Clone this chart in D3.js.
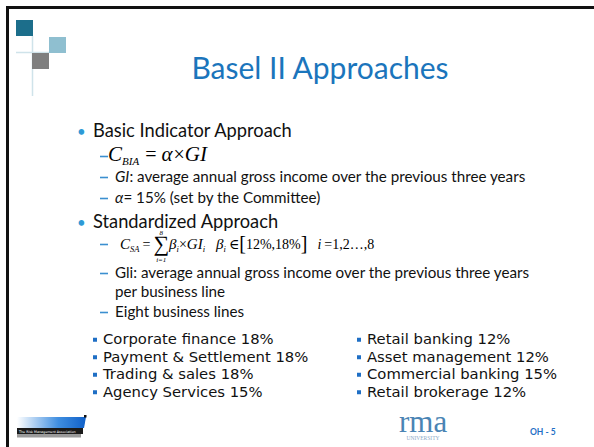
<!DOCTYPE html>
<html>
<head>
<meta charset="utf-8">
<script src="https://cdn.jsdelivr.net/npm/d3@7"></script>
<style>
  html, body { margin: 0; padding: 0; background: #fff; }
  svg { display: block; }
  svg text { white-space: pre; }
</style>
</head>
<body>
<svg id="slide"></svg>
<script>
// slide content
const title = 'Basel II Approaches'
const approaches = ['Basic Indicator Approach', 'Standardized Approach']
const alphaPct = 15
const betaRange = [12, 18]
const nLines = 8
const giNote = ': average annual gross income over the previous three years'
const gliNote = ['Gli: average annual gross income over the previous three years', 'per business line']
const eightNote = 'Eight business lines'
const businessLines = ['Corporate finance', 'Payment & Settlement', 'Trading & sales', 'Agency Services',
                       'Retail banking', 'Asset management', 'Commercial banking', 'Retail brokerage']
const betaPct = [18, 18, 18, 15, 12, 12, 15, 12]
const slideNo = 'OH - 5'

const W = 594, H = 447
const sans = 'Lato, "Open Sans", sans-serif'
const serif = '"Liberation Serif", "DejaVu Serif", serif'
const verdana = '"DejaVu Sans", Verdana, sans-serif'
const blue = '#1b75bc'
const dashBlue = '#3b8fd0'

const svg = d3.select('#slide').attr('width', W).attr('height', H)

// frame
svg.append('path')
    .attr('d', `M7.5,${H} V7.5 H${W}`)
    .attr('fill', 'none').attr('stroke', '#111').attr('stroke-width', 3)

// corner logo
const logo = svg.append('g')
logo.append('line').attr('x1', 32.5).attr('x2', 32.5).attr('y1', 36).attr('y2', 96)
    .attr('stroke', '#cfe3ea').attr('stroke-width', 1.5)
logo.append('line').attr('x1', 16).attr('x2', 49).attr('y1', 52.5).attr('y2', 52.5)
    .attr('stroke', '#cfe3ea').attr('stroke-width', 1.5)
logo.append('rect').attr('x', 16).attr('y', 20).attr('width', 17).attr('height', 16).attr('fill', '#1c6e8b')
logo.append('rect').attr('x', 49).attr('y', 37).attr('width', 17).attr('height', 16).attr('fill', '#8fbfd0')
logo.append('rect').attr('x', 32).attr('y', 53).attr('width', 17).attr('height', 16).attr('fill', '#7f7f7f')

// title
svg.append('text')
    .attr('x', 320).attr('y', 79)
    .attr('text-anchor', 'middle')
    .attr('font-family', sans).attr('font-size', 30)
    .attr('fill', blue)
    .text(title)

// lays a run of text pieces from left to right
function run (g, x, y, pieces) {
    let cx = x
    pieces.forEach(p => {
        if (p.gap) { cx += p.gap; return }
        let t = g.append('text')
            .attr('x', cx).attr('y', y + (p.dy || 0))
            .attr('font-family', p.ff || serif)
            .attr('font-size', p.fs || 17)
            .attr('font-style', p.it ? 'italic' : 'normal')
            .attr('fill', p.fill || '#000')
            .text(p.t)
        let w = t.node().getComputedTextLength()
        if (p.over || p.under) {
            let mid = cx + w / 2
            if (p.over) g.append('text').attr('x', mid).attr('y', y - 14).attr('text-anchor', 'middle')
                .attr('font-family', serif).attr('font-style', 'italic').attr('font-size', 7).text(p.over)
            if (p.under) g.append('text').attr('x', mid).attr('y', y + 13).attr('text-anchor', 'middle')
                .attr('font-family', serif).attr('font-style', 'italic').attr('font-size', 7).text(p.under)
        }
        cx += w
    })
    return cx
}

const body = svg.append('g')

function heading (txt, y) {
    body.append('text').attr('x', 77).attr('y', y)
        .attr('font-family', sans).attr('font-size', 15).attr('fill', '#2e9ad6').text('•')
    body.append('text').attr('x', 93).attr('y', y)
        .attr('font-family', sans).attr('font-size', 18.3).attr('fill', '#111').text(txt)
}

function dash (y) {
    body.append('line').attr('x1', 100).attr('x2', 108).attr('y1', y - 4.5).attr('y2', y - 4.5)
        .attr('stroke', dashBlue).attr('stroke-width', 1.6)
}

function note (y, pieces) {
    dash(y)
    run(body, 115, y, pieces.map(p => Object.assign({ ff: sans, fs: 15.2, fill: '#111' }, p)))
}

// Basic Indicator Approach
heading(approaches[0], 137)
dash(161)
run(body, 108, 161, [
    { t: 'C', it: true, fs: 21 },
    { t: 'BIA', it: true, fs: 11, dy: 4 },
    { gap: 6 },
    { t: '=', fs: 20 },
    { gap: 5 },
    { t: 'α', it: true, fs: 21 },
    { gap: 1 },
    { t: '×', fs: 20 },
    { t: 'GI', it: true, fs: 21 }
])
note(182, [{ t: 'GI', it: true }, { t: giNote }])
note(203, [{ t: 'α', it: true }, { t: `= ${alphaPct}% (set by the Committee)` }])

// Standardized Approach
heading(approaches[1], 228)
dash(249)
run(body, 120, 249, [
    { t: 'C', it: true, fs: 15 },
    { t: 'SA', it: true, fs: 8.5, dy: 3 },
    { gap: 3 },
    { t: '=', fs: 14 },
    { gap: 3 },
    { t: '∑', fs: 22, dy: 2, over: String(nLines), under: 'i=1' },
    { t: 'β', it: true, fs: 15 },
    { t: 'i', it: true, fs: 8.5, dy: 3 },
    { t: '×', fs: 14 },
    { t: 'GI', it: true, fs: 15 },
    { t: 'i', it: true, fs: 8.5, dy: 3 },
    { gap: 11 },
    { t: 'β', it: true, fs: 15 },
    { t: 'i', it: true, fs: 8.5, dy: 3 },
    { gap: 3 },
    { t: '∈', fs: 14 },
    { t: '[', fs: 20, dy: 1 },
    { t: `${betaRange[0]}%,${betaRange[1]}%`, fs: 14 },
    { t: ']', fs: 20, dy: 1 },
    { gap: 10 },
    { t: 'i', it: true, fs: 14 },
    { gap: 3 },
    { t: `=1,2…,${nLines}`, fs: 14 }
])
note(278, [{ t: gliNote[0] }])
run(body, 115, 297, [{ t: gliNote[1], ff: sans, fs: 15.2, fill: '#111' }])
note(317, [{ t: eightNote }])

// business lines, two columns of four
const rows = d3.scaleBand().domain(d3.range(4)).range([331, 401])
const cols = d3.scaleOrdinal().domain([0, 1]).range([93, 357])

const items = body.selectAll('g.item')
    .data(businessLines.map((name, i) => ({ name, pct: betaPct[i], col: Math.floor(i / 4), row: i % 4 })))
    .join('g').attr('class', 'item')
    .attr('transform', d => `translate(${cols(d.col)},${rows(d.row) + rows.bandwidth() / 2 + 4.5})`)

items.append('rect').attr('x', 0).attr('y', -6.5).attr('width', 4).attr('height', 4).attr('fill', '#1f6fc5')
items.append('text').attr('x', 10).attr('y', 0)
    .attr('font-family', verdana).attr('font-size', 14.8).attr('fill', '#111')
    .text(d => `${d.name} ${d.pct}%`)

// footer: left logo
const grad = svg.append('defs').append('linearGradient').attr('id', 'bar')
grad.append('stop').attr('offset', '0%').attr('stop-color', '#ffffff')
grad.append('stop').attr('offset', '60%').attr('stop-color', '#3f8ee0')
grad.append('stop').attr('offset', '100%').attr('stop-color', '#1060c8')
svg.append('path').attr('d', 'M17,417 H86 L84,428 H17 Z').attr('fill', 'url(#bar)')
svg.append('rect').attr('x', 84).attr('y', 415).attr('width', 2.5).attr('height', 2.5).attr('fill', '#111')
svg.append('rect').attr('x', 17).attr('y', 428).attr('width', 66).attr('height', 6).attr('fill', '#1a1a1a')
svg.append('rect').attr('x', 17).attr('y', 434).attr('width', 64).attr('height', 3.5).attr('fill', '#9a9a9a')
svg.append('text').attr('x', 19).attr('y', 432.5).attr('font-family', verdana).attr('font-size', 3.3)
    .attr('fill', '#fff').text('The Risk Management Association')

// footer: rma university
svg.append('text').attr('x', 399).attr('y', 432).attr('font-family', serif).attr('font-size', 31)
    .attr('fill', '#4a84b4').text('rma')
svg.append('text').attr('x', 423).attr('y', 440).attr('text-anchor', 'middle')
    .attr('font-family', serif).attr('font-size', 5.5).attr('fill', '#8aa9c8').text('UNIVERSITY')
svg.append('text').attr('x', 530).attr('y', 435).attr('font-family', sans).attr('font-size', 8.5)
    .attr('font-weight', 'bold').attr('fill', '#1f6fc5').text(slideNo)
</script>
</body>
</html>
